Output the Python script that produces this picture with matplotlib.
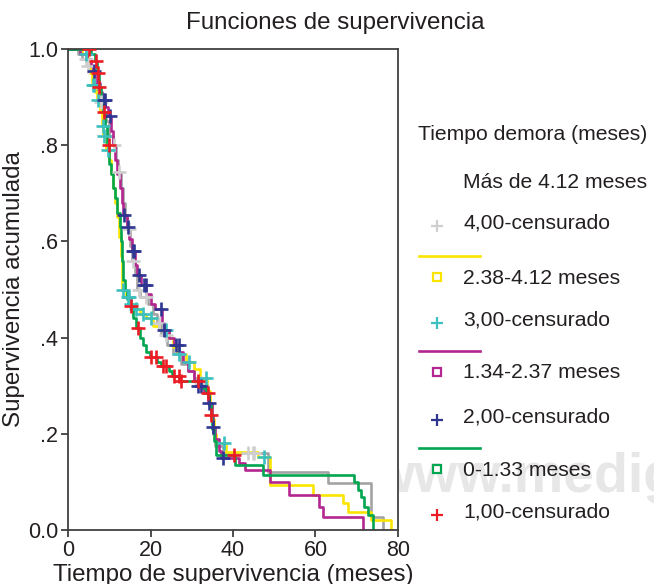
import numpy as np
import matplotlib.pyplot as plt
from matplotlib.lines import Line2D

plt.rcParams['font.family'] = ['Liberation Sans', 'DejaVu Sans']
TXT = '#231f20'

# Kaplan-Meier steps: drop time (meses) and survival after it
t_mas4 = [2.5, 3.5, 4.8, 5.5, 6.3, 7.0, 7.8, 8.5, 9.2, 10.0, 10.8, 11.6, 12.2, 12.8, 13.3,
          13.8, 14.3, 15.0, 15.5, 16.2, 16.8, 17.5, 19.5, 20.5, 21.5, 22.5, 24.0, 25.5,
          27.5, 29.0, 30.5, 32.0, 33.5, 34.2, 34.7, 35.2, 35.7, 37.5, 48.5, 63.0, 73.5, 76.4]
s_mas4 = [0.99, 0.98, 0.965, 0.95, 0.93, 0.91, 0.89, 0.87, 0.85, 0.82, 0.80, 0.77, 0.745,
          0.71, 0.68, 0.65, 0.625, 0.59, 0.56, 0.53, 0.50, 0.485, 0.47, 0.45, 0.43, 0.405,
          0.385, 0.365, 0.345, 0.33, 0.315, 0.305, 0.29, 0.26, 0.23, 0.20, 0.175, 0.16,
          0.12, 0.097, 0.027, 0.0]
c_mas4 = [4.4, 4.8, 8.0, 11.2, 12.4, 14.8, 15.8, 17.2, 18.9, 22.1, 23.8, 26.9, 32.2,
          43.6, 44.8, 45.1]

t_238 = [3.5, 4.8, 5.3, 5.8, 6.5, 7.0, 7.8, 8.2, 8.6, 9.2, 9.9, 10.5, 11.0, 11.5, 12.0,
         12.4, 12.8, 13.1, 13.2, 14.0, 15.0, 16.0, 17.5, 19.0, 20.5, 22.0, 24.5, 25.5,
         26.5, 28.5, 30.5, 32.0, 33.8, 34.5, 35.0, 35.5, 36.0, 38.2, 46.0, 49.0, 59.4,
         66.7, 68.0, 73.5, 78.3]
s_238 = [0.99, 0.97, 0.95, 0.925, 0.91, 0.895, 0.87, 0.84, 0.82, 0.79, 0.77, 0.74, 0.71,
         0.68, 0.65, 0.61, 0.57, 0.53, 0.50, 0.485, 0.47, 0.46, 0.45, 0.44, 0.425, 0.415,
         0.40, 0.38, 0.365, 0.35, 0.335, 0.315, 0.29, 0.26, 0.23, 0.20, 0.18, 0.162,
         0.152, 0.093, 0.073, 0.056, 0.037, 0.02, 0.0]
c_238 = [4.4, 6.1, 6.3, 7.3, 8.5, 8.7, 9.7, 13.3, 14.5, 14.8, 15.2, 16.5, 18.2, 20.1,
         23.8, 26.9, 29.3, 33.5, 37.8, 47.5]

t_134 = [3.0, 4.5, 5.5, 6.0, 7.0, 7.8, 8.3, 9.0, 9.8, 10.5, 11.0, 11.5, 12.0, 12.5, 13.0,
         13.4, 14.2, 14.8, 15.4, 16.2, 16.8, 17.8, 19.0, 20.0, 21.0, 22.8, 23.2, 24.5,
         25.8, 27.0, 28.0, 29.0, 30.5, 31.2, 33.0, 34.0, 34.8, 35.1, 35.6, 36.5, 37.0,
         41.5, 43.0, 49.0, 53.5, 60.9, 61.8, 71.6]
s_134 = [0.99, 0.98, 0.965, 0.955, 0.93, 0.91, 0.895, 0.88, 0.86, 0.83, 0.80, 0.77, 0.74,
         0.71, 0.68, 0.655, 0.63, 0.605, 0.58, 0.55, 0.53, 0.51, 0.49, 0.47, 0.46, 0.43,
         0.415, 0.40, 0.385, 0.37, 0.35, 0.33, 0.31, 0.30, 0.285, 0.265, 0.24, 0.215,
         0.19, 0.165, 0.15, 0.14, 0.124, 0.10, 0.073, 0.048, 0.027, 0.0]
c_134 = [6.3, 8.7, 8.9, 10.2, 13.6, 14.5, 15.8, 16.0, 17.2, 18.4, 18.9, 22.5, 23.3, 26.2,
         26.9, 31.5, 32.2, 34.2, 35.2, 37.6]

t_0 = [5.5, 6.5, 7.0, 7.5, 8.0, 8.5, 9.0, 9.5, 10.0, 10.5, 11.0, 11.5, 12.0, 12.5, 12.8,
       13.0, 13.3, 13.8, 14.3, 15.0, 15.8, 16.5, 17.5, 18.3, 19.0, 19.8, 21.5, 22.5, 24.5,
       25.3, 27.0, 32.5, 33.5, 34.2, 34.6, 35.0, 35.5, 36.0, 40.5, 47.3, 69.3, 70.3,
       71.0, 71.8, 72.7, 74.0]
s_0 = [0.99, 0.975, 0.95, 0.92, 0.90, 0.87, 0.84, 0.80, 0.76, 0.74, 0.71, 0.69, 0.66,
       0.63, 0.60, 0.56, 0.52, 0.50, 0.48, 0.465, 0.44, 0.42, 0.40, 0.385, 0.37, 0.36,
       0.35, 0.34, 0.33, 0.32, 0.31, 0.295, 0.285, 0.26, 0.24, 0.21, 0.185, 0.155, 0.135,
       0.114, 0.10, 0.083, 0.069, 0.048, 0.031, 0.0]
c_0 = [5.1, 6.8, 7.3, 7.6, 8.7, 9.9, 15.3, 17.0, 20.1, 21.3, 23.0, 23.8, 25.7, 26.9,
       27.4, 31.5, 33.9, 34.7, 40.2]

grupos = ['Más de 4.12 meses', '2.38-4.12 meses', '1.34-2.37 meses', '0-1.33 meses']
censura = ['4,00-censurado', '3,00-censurado', '2,00-censurado', '1,00-censurado']
col_linea = ['#a3a3a3', '#fae500', '#b3268f', '#00a650']
col_cens = ['#cfcfcf', '#3cbfbf', '#2e3692', '#ec1c24']
pasos = [(t_mas4, s_mas4, c_mas4), (t_238, s_238, c_238),
         (t_134, s_134, c_134), (t_0, s_0, c_0)]


def surv_at(t_steps, s_steps, times):
    tt = np.concatenate([[0.0], t_steps])
    ss = np.concatenate([[1.0], s_steps])
    idx = np.searchsorted(tt, times, side='right') - 1
    return ss[idx]


W, H = 654, 584
fig = plt.figure(figsize=(W / 100, H / 100), dpi=100)


def fx(px):
    return px / W


def fy(py):
    return 1 - py / H


# faint watermark behind everything
fig.text(fx(371), fy(492), 'www.medigraphic', fontsize=40, fontweight='bold',
         color='#e7e7e7', ha='left', va='baseline', zorder=-5)

ax = fig.add_axes([fx(68), fy(530), (398 - 68) / W, (530 - 49) / H])
ax.set_facecolor('white')

for (t, s, c), lc, cc in zip(pasos, col_linea, col_cens):
    tt = np.concatenate([[0.0], t])
    ss = np.concatenate([[1.0], s])
    ax.step(tt, ss, where='post', color=lc, lw=1.9, zorder=2)
    ax.plot(c, surv_at(t, s, c), ls='none', marker='+', ms=10.5, mew=1.9,
            color=cc, zorder=3)

ax.set_xlim(0, 80)
ax.set_ylim(0, 1.0)
ax.set_xticks([0, 20, 40, 60, 80])
ax.set_yticks([0, 0.2, 0.4, 0.6, 0.8, 1.0])
ax.set_yticklabels(['0.0', '.2', '.4', '.6', '.8', '1.0'])
for sp in ax.spines.values():
    sp.set_color('#404040')
    sp.set_linewidth(1.3)
ax.tick_params(direction='out', length=5, width=1.3, color='#404040',
               labelsize=15.5, labelcolor=TXT, pad=2)
ax.set_xlabel('Tiempo de supervivencia (meses)', fontsize=17.4, color=TXT, labelpad=2)
ax.set_ylabel('Supervivencia acumulada', fontsize=17.4, color=TXT, labelpad=2)

fig.text(fx(335), fy(23), 'Funciones de supervivencia', fontsize=17.4, color=TXT,
         ha='center', va='center')

# legend, laid out by hand like the SPSS one
fig.text(fx(418), fy(135), 'Tiempo demora (meses)', fontsize=15.2, color=TXT,
         ha='left', va='center')
fila_grupo = [182, 278, 373, 470]
fila_cens = [223, 320, 417, 512]
fila_linea = [None, 256, 351, 448]
for i in range(4):
    fig.text(fx(463), fy(fila_grupo[i]), grupos[i], fontsize=15.2, color=TXT,
             ha='left', va='center')
    fig.text(fx(463), fy(fila_cens[i]), censura[i], fontsize=15.2, color=TXT,
             ha='left', va='center')
    fig.add_artist(Line2D([fx(437)], [fy(fila_cens[i] + 3)], marker='+', ms=9,
                          mew=1.6, color=col_cens[i], ls='none'))
    if fila_linea[i] is not None:
        fig.add_artist(Line2D([fx(419), fx(480)], [fy(fila_linea[i])] * 2,
                              color=col_linea[i], lw=1.9))
        fig.add_artist(Line2D([fx(437)], [fy(fila_grupo[i] - 1)], marker='s', ms=5.5,
                              mew=1.6, mfc='white', color=col_linea[i], ls='none'))

fig.savefig('out.png', dpi=100)
